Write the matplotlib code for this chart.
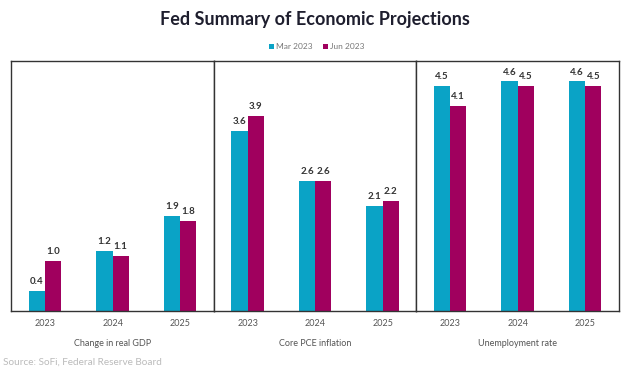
import matplotlib.pyplot as plt
import numpy as np

plt.rcParams['font.family'] = ['Lato', 'DejaVu Sans']

years = ["2023", "2024", "2025"]
panels = ["Change in real GDP", "Core PCE inflation", "Unemployment rate"]
mar_2023 = [[0.4, 1.2, 1.9], [3.6, 2.6, 2.1], [4.5, 4.6, 4.6]]
jun_2023 = [[1.0, 1.1, 1.8], [3.9, 2.6, 2.2], [4.1, 4.5, 4.5]]

cyan = "#0aa3c6"
magenta = "#a0005e"
w = 0.24

fig = plt.figure(figsize=(6.3, 3.7), dpi=100)
left, right, bottom, top = 0.018, 0.9825, 0.16, 0.834
pw = (right - left) / 3

x = np.arange(len(years))
for i, name in enumerate(panels):
    ax = fig.add_axes([left + i * pw, bottom, pw, top - bottom])
    b1 = ax.bar(x - w / 2, mar_2023[i], w, color=cyan, label="Mar 2023")
    b2 = ax.bar(x + w / 2, jun_2023[i], w, color=magenta, label="Jun 2023")
    for bars in (b1, b2):
        for b in bars:
            ax.annotate(f"{b.get_height():.1f}", (b.get_x() + b.get_width() / 2, b.get_height()),
                        xytext=(0, 3.5), textcoords="offset points", ha="center", va="bottom",
                        fontsize=7, fontweight="bold", color="#333333")
    ax.set_xlim(-0.5, 2.5)
    ax.set_ylim(0, 5)
    ax.set_yticks([])
    ax.set_xticks(x)
    ax.set_xticklabels(years)
    ax.tick_params(axis="x", length=0, pad=6, labelsize=6.5, labelcolor="#555555")
    ax.set_xlabel(name, fontsize=6.5, color="#555555", labelpad=8)
    for s in ax.spines.values():
        s.set_color("#333333")
        s.set_linewidth(1.0)
    if i == 0:
        handles = [b1, b2]

fig.text(0.5, 0.946, "Fed Summary of Economic Projections", ha="center", va="center",
         fontsize=13, fontweight="bold", color="#1e1e2e")
fig.legend(handles=handles, labels=["Mar 2023", "Jun 2023"], loc="center",
           bbox_to_anchor=(0.503, 0.874), ncol=2, frameon=False, fontsize=6,
           labelcolor="#777777", handlelength=0.6, handleheight=0.6, handletextpad=0.3,
           columnspacing=1.2)
fig.text(0.005, 0.022, "Source: SoFi, Federal Reserve Board", ha="left", va="center",
         fontsize=7.2, color="#bbbbbb")

fig.savefig("out.png", dpi=100, facecolor="white")
